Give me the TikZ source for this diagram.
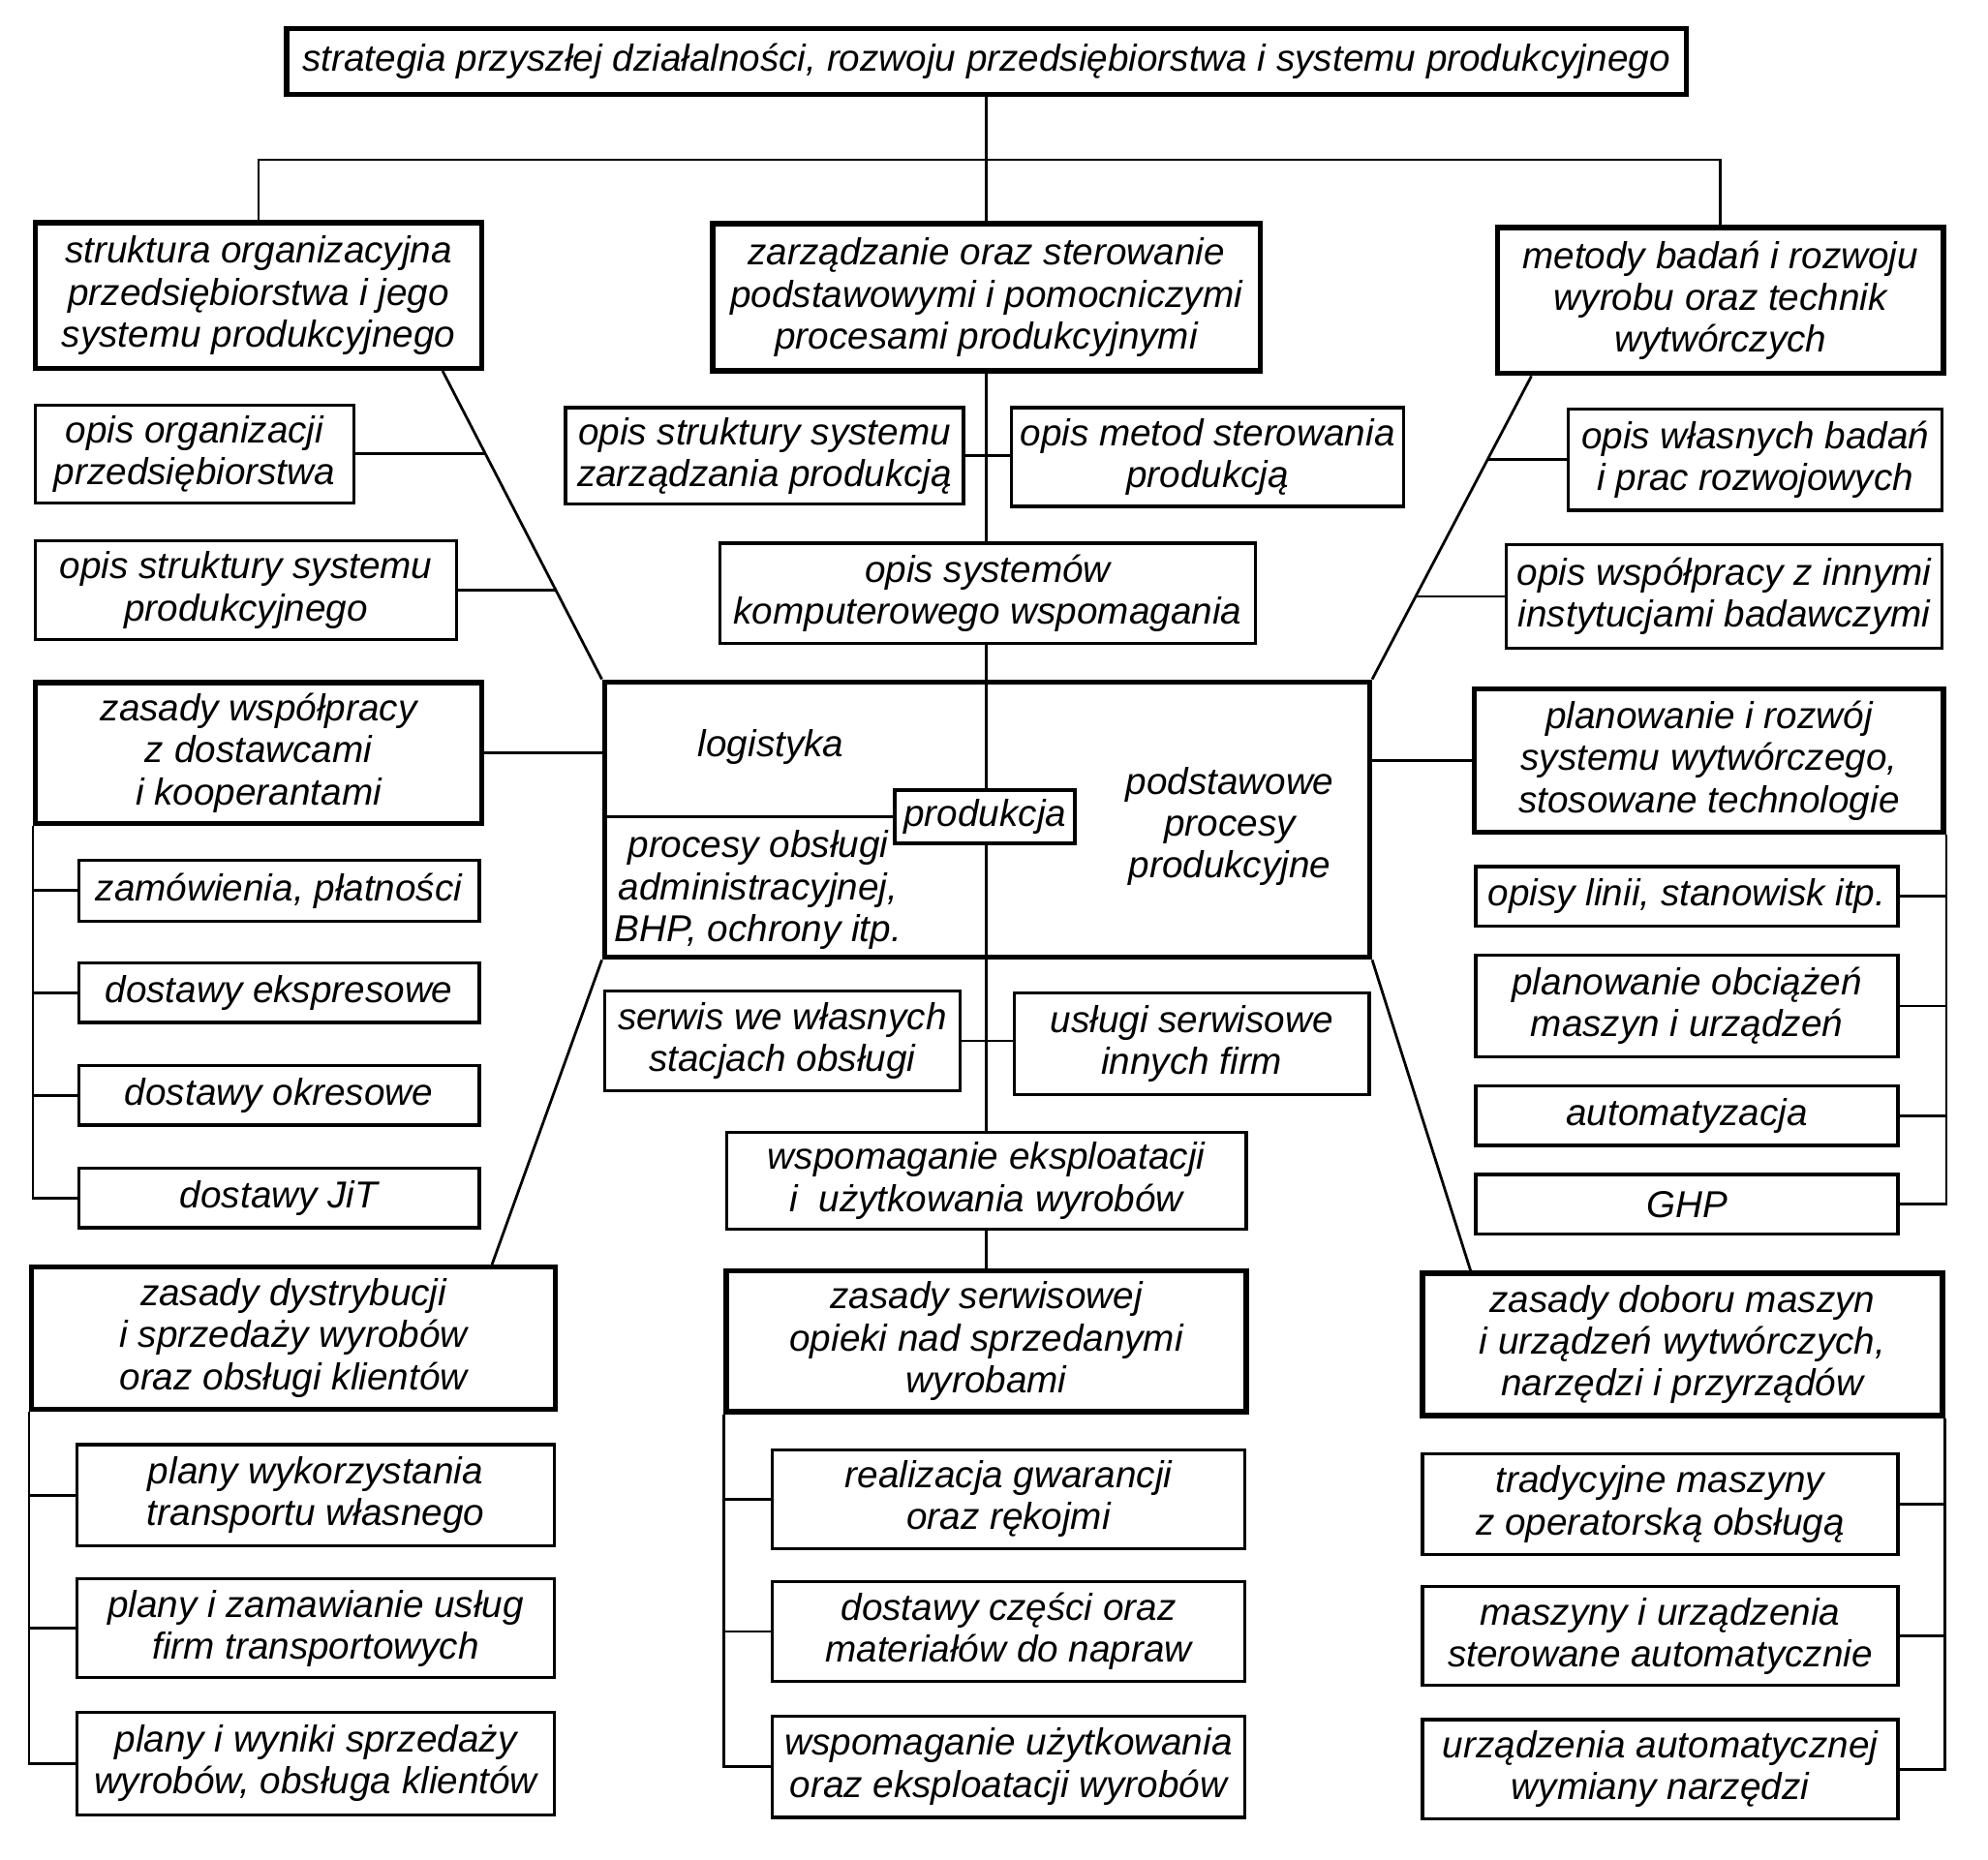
\documentclass[tikz,border=0pt]{standalone}
\usepackage{fontspec}
\setmainfont{Liberation Sans}
\usetikzlibrary{backgrounds,calc}
\newcommand\fs{\fontsize{8.4}{9.4}\selectfont\itshape}
\tikzset{
  box/.style={draw, line width=0.7pt, fill=white, align=center, inner sep=0pt, font=\fs},
  tk/.style={line width=1.2pt},
  md/.style={line width=0.9pt},
  ln/.style={line width=0.6pt},
  txt/.style={align=center, inner sep=0pt, font=\fs},
}
% \bx[style]{name}{x1}{y1}{x2}{y2}{text}
\newcommand{\bx}[7][]{\node[box,#1,minimum width={(#5-#3)*0.01cm},minimum height={(#6-#4)*0.01cm}] (#2) at ({(#3+#5)/2},{(#4+#6)/2+1.5}) {#7};}
\begin{document}
\begin{tikzpicture}[x=0.01cm,y=-0.01cm]
\useasboundingbox (0,0) rectangle (1568,1467);
% top
\bx[tk]{top}{226}{21}{1330}{73}{strategia przyszłej działalności, rozwoju przedsiębiorstwa i systemu produkcyjnego}
% level 1
\bx[tk]{str}{28}{174}{380}{289}{struktura organizacyjna\\przedsiębiorstwa i jego\\systemu produkcyjnego}
\bx[tk]{zar}{562}{175}{994}{291}{zarządzanie oraz sterowanie\\podstawowymi i pomocniczymi\\procesami produkcyjnymi}
\bx[tk]{met}{1181}{178}{1533}{293}{metody badań i rozwoju\\wyrobu oraz technik\\wytwórczych}
% left column
\bx{oporg}{28}{318}{279}{395}{opis organizacji\\przedsiębiorstwa}
\bx{ostrp}{28}{425}{360}{503}{opis struktury systemu\\produkcyjnego}
\bx[tk]{zwsp}{28}{537}{380}{648}{zasady współpracy\\z dostawcami\\i kooperantami}
\bx{zam}{62}{677}{378}{725}{zamówienia, płatności}
\bx{dex}{62}{758}{378}{805}{dostawy ekspresowe}
\bx{dok}{62}{839}{378}{886}{dostawy okresowe}
\bx{djit}{62}{920}{378}{967}{dostawy JiT}
\bx[tk]{zdys}{25}{998}{438}{1110}{zasady dystrybucji\\i sprzedaży wyrobów\\oraz obsługi klientów}
\bx{pw}{61}{1138}{437}{1218}{plany wykorzystania\\transportu własnego}
\bx{pz}{61}{1244}{437}{1322}{plany i zamawianie usług\\firm transportowych}
\bx{pwy}{61}{1349}{437}{1430}{plany i wyniki sprzedaży\\wyrobów, obsługa klientów}
% center column
\bx{osz}{446}{320}{760}{396}{opis struktury systemu\\zarządzania produkcją}
\bx{oms}{798}{320}{1107}{398}{opis metod sterowania\\produkcją}
\bx{osys}{568}{427}{990}{506}{opis systemów\\komputerowego wspomagania}
\node[draw,tk,inner sep=0pt,minimum width=6.03cm,minimum height=2.17cm] (cb) at (778.5,646.5) {};
\bx[md]{prod}{706}{622}{848}{664}{produkcja}
\node[txt] (logi) at (608,589) {logistyka};
\node[txt] (proc) at (598,702) {procesy obsługi\\administracyjnej,\\BHP, ochrony itp.};
\node[txt] (podst) at (970,652) {podstawowe\\procesy\\produkcyjne};
\bx{serw}{477}{780}{757}{859}{serwis we własnych\\stacjach obsługi}
\bx{usl}{800}{782}{1080}{862}{usługi serwisowe\\innych firm}
\bx{wsp}{573}{892}{983}{968}{wspomaganie eksploatacji\\i\ \ użytkowania wyrobów}
\bx[tk]{zser}{573}{1001}{983}{1112}{zasady serwisowej\\opieki nad sprzedanymi\\wyrobami}
\bx{rg}{609}{1142}{982}{1220}{realizacja gwarancji\\oraz rękojmi}
\bx{dcz}{609}{1246}{982}{1325}{dostawy części oraz\\materiałów do napraw}
\bx{wu}{609}{1352}{982}{1432}{wspomaganie użytkowania\\oraz eksploatacji wyrobów}
% right column
\bx{owb}{1237}{321}{1532}{401}{opis własnych badań\\i prac rozwojowych}
\bx{owsp}{1188}{428}{1532}{510}{opis współpracy z innymi\\instytucjami badawczymi}
\bx[tk]{pir}{1163}{542}{1533}{655}{planowanie i rozwój\\systemu wytwórczego,\\stosowane technologie}
\bx{ol}{1164}{682}{1497}{729}{opisy linii, stanowisk itp.}
\bx{po}{1164}{752}{1497}{832}{planowanie obciążeń\\maszyn i urządzeń}
\bx{aut}{1164}{855}{1497}{902}{automatyzacja}
\bx{ghp}{1164}{925}{1497}{972}{GHP}
\bx[tk]{zdob}{1122}{1003}{1532}{1115}{zasady doboru maszyn\\i urządzeń wytwórczych,\\narzędzi i przyrządów}
\bx{tm}{1122}{1145}{1497}{1225}{tradycyjne maszyny\\z operatorską obsługą}
\bx{mu}{1122}{1250}{1497}{1328}{maszyny i urządzenia\\sterowane automatycznie}
\bx{ua}{1122}{1355}{1497}{1433}{urządzenia automatycznej\\wymiany narzędzi}
% connectors
\begin{scope}[on background layer]
\fill[white] (0,0) rectangle (1568,1467);
\coordinate (bar) at (778,126);
\draw[ln] (top.south) -- (bar);
\draw[ln] (str.north) |- (bar) -| (met.north);
\draw[ln] (bar) -- (zar.north);
\draw[ln] (zar.south) -- (zar.south |- zser.north);
\draw[ln] (osz.east) -- (osz.east -| oms.west);
\draw[ln] (serw.east) -- (serw.east -| usl.west);
\draw[ln] (cb.west |- prod.west) -- (prod.west);
% left upper diagonal
\draw[ln] ([xshift=-0.33cm]str.south east) -- (cb.north west);
\draw[ln] (oporg.east) -- (oporg.east -| 383,0);
\draw[ln] (ostrp.east) -- (ostrp.east -| 439,0);
\draw[ln] (zwsp.east) -- (zwsp.east -| cb.west);
% left lower diagonal
\draw[ln] (cb.south west) -- ([xshift=-0.52cm]zdys.north east);
% left brackets
\draw[ln] (zwsp.south west) |- (djit.west);
\draw[ln] (zam.west) -- (zam.west -| zwsp.south west);
\draw[ln] (dex.west) -- (dex.west -| zwsp.south west);
\draw[ln] (dok.west) -- (dok.west -| zwsp.south west);
\draw[ln] (zdys.south west) |- (pwy.west);
\draw[ln] (pw.west) -- (pw.west -| zdys.south west);
\draw[ln] (pz.west) -- (pz.west -| zdys.south west);
% center bracket
\draw[ln] (zser.south west) |- (wu.west);
\draw[ln] (rg.west) -- (rg.west -| zser.south west);
\draw[ln] (dcz.west) -- (dcz.west -| zser.south west);
% right upper diagonal
\draw[ln] ([xshift=0.29cm]met.south west) -- (cb.north east);
\draw[ln] (owb.west) -- (owb.west -| 1173,0);
\draw[ln] (owsp.west) -- (owsp.west -| 1116,0);
\draw[ln] (cb.east |- pir.west) -- (pir.west);
% right brackets
\draw[ln] (pir.south east) |- (ghp.east);
\draw[ln] (ol.east) -- (ol.east -| pir.south east);
\draw[ln] (po.east) -- (po.east -| pir.south east);
\draw[ln] (aut.east) -- (aut.east -| pir.south east);
% right lower diagonal
\draw[ln] (cb.south east) -- ([xshift=0.4cm]zdob.north west);
\draw[ln] (zdob.south east) |- (ua.east);
\draw[ln] (tm.east) -- (tm.east -| zdob.south east);
\draw[ln] (mu.east) -- (mu.east -| zdob.south east);
\end{scope}
\end{tikzpicture}
\end{document}
